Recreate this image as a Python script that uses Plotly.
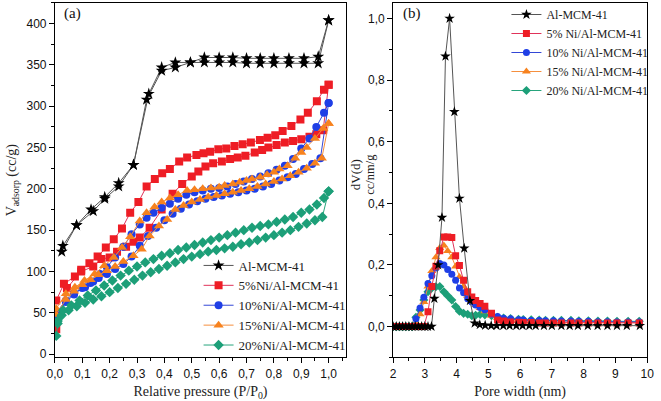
import plotly.graph_objects as go

# ---------------- Panel (a): N2 isotherms (adsorption + desorption branches) -------------
al_ads_p = [0.025, 0.079, 0.14, 0.182, 0.233, 0.287, 0.335, 0.39, 0.44, 0.495, 0.546, 0.60, 0.65, 0.70, 0.75, 0.80, 0.855, 0.91, 0.962, 1.0]
al_ads_v = [124, 156, 173, 188, 203, 229, 308, 343, 347, 353, 353, 353, 353, 352, 352, 352, 352, 352, 352, 404]
al_des_p = [1.0, 0.962, 0.91, 0.855, 0.80, 0.75, 0.70, 0.65, 0.60, 0.546, 0.495, 0.44, 0.39, 0.343, 0.287, 0.233, 0.182, 0.132, 0.079, 0.029]
al_des_v = [404, 360, 358, 358, 358, 358, 358, 359, 359, 359, 353, 353, 347, 315, 229, 207, 190, 175, 156, 131]

ni5_ads_p = [0.005, 0.044, 0.096, 0.14, 0.17, 0.20, 0.227, 0.26, 0.287, 0.31, 0.346, 0.39, 0.43, 0.465, 0.50, 0.524, 0.55, 0.578, 0.61, 0.64, 0.668, 0.696, 0.73, 0.757, 0.78, 0.81, 0.84, 0.87, 0.90, 0.93, 0.955, 0.98, 1.0]
ni5_ads_v = [30, 80, 100, 106, 115, 117, 124, 130, 136, 141, 153, 175, 194, 206, 215, 221, 227, 231, 233, 236, 238, 240, 244, 247, 250, 253, 256, 258, 260, 263, 266, 271, 326]
ni5_des_p = [1.0, 0.983, 0.957, 0.924, 0.897, 0.864, 0.832, 0.805, 0.777, 0.749, 0.716, 0.686, 0.656, 0.626, 0.597, 0.567, 0.543, 0.517, 0.483, 0.454, 0.42, 0.392, 0.365, 0.335, 0.305, 0.275, 0.245, 0.215, 0.186, 0.156, 0.126, 0.096, 0.073, 0.033, 0.005]
ni5_des_v = [326, 320, 306, 292, 284, 276, 270, 265, 262, 259, 256, 254, 252, 249, 248, 245, 243, 241, 238, 233, 224, 219, 212, 203, 184, 171, 152, 139, 129, 118, 110, 102, 94, 85, 65]

ni10_ads_p = [0.005, 0.04, 0.07, 0.10, 0.13, 0.16, 0.19, 0.22, 0.25, 0.28, 0.31, 0.34, 0.37, 0.40, 0.43, 0.46, 0.49, 0.52, 0.55, 0.58, 0.61, 0.64, 0.67, 0.70, 0.73, 0.76, 0.79, 0.82, 0.85, 0.88, 0.91, 0.94, 0.97, 1.0]
ni10_ads_v = [45, 63, 72, 80, 86, 92, 97, 103, 109, 118, 131, 143, 153, 162, 170, 176, 181, 185, 188, 190, 192, 194, 196, 198, 200, 203, 206, 210, 214, 218, 224, 230, 237, 304]
ni10_des_p = [1.0, 0.983, 0.955, 0.93, 0.90, 0.87, 0.84, 0.81, 0.78, 0.75, 0.72, 0.69, 0.66, 0.63, 0.60, 0.57, 0.54, 0.51, 0.48, 0.45, 0.42, 0.39, 0.36, 0.335, 0.31, 0.28, 0.25, 0.22, 0.19, 0.165, 0.14, 0.11, 0.07, 0.04, 0.005]
ni10_des_v = [304, 292, 275, 261, 249, 236, 228, 223, 219, 215, 212, 209, 206, 203, 201, 200, 198, 196, 193, 188, 182, 177, 171, 165, 157, 145, 130, 117, 105, 97, 88, 81, 74, 65, 50]

ni15_ads_p = [0.005, 0.04, 0.07, 0.10, 0.13, 0.16, 0.19, 0.22, 0.25, 0.287, 0.317, 0.346, 0.38, 0.41, 0.44, 0.47, 0.50, 0.53, 0.56, 0.59, 0.62, 0.65, 0.68, 0.71, 0.74, 0.77, 0.80, 0.83, 0.86, 0.89, 0.92, 0.95, 0.975, 1.0]
ni15_ads_v = [48, 66, 76, 84, 90, 96, 101, 106, 112, 119, 127, 143, 155, 163, 175, 180, 184, 187, 190, 192, 194, 196, 198, 200, 203, 206, 209, 212, 216, 220, 225, 231, 237, 279]
ni15_des_p = [1.0, 0.98, 0.95, 0.92, 0.90, 0.878, 0.85, 0.82, 0.80, 0.775, 0.75, 0.72, 0.70, 0.675, 0.65, 0.62, 0.60, 0.57, 0.54, 0.51, 0.483, 0.45, 0.42, 0.39, 0.364, 0.335, 0.31, 0.275, 0.245, 0.215, 0.18, 0.145, 0.108, 0.073, 0.04, 0.005]
ni15_des_v = [279, 273, 261, 250, 244, 237, 228, 224, 220, 217, 214, 212, 210, 208, 206, 204, 202, 201, 200, 199, 198, 193, 189, 184, 178, 171, 161, 142, 129, 117, 107, 97, 89, 81, 73, 55]

ni20_ads_p = [0.005, 0.01, 0.025, 0.05, 0.08, 0.11, 0.14, 0.17, 0.20, 0.23, 0.26, 0.29, 0.32, 0.35, 0.38, 0.41, 0.44, 0.47, 0.50, 0.53, 0.56, 0.59, 0.62, 0.65, 0.68, 0.71, 0.74, 0.77, 0.80, 0.83, 0.86, 0.89, 0.92, 0.95, 0.977, 1.0]
ni20_ads_v = [22, 37, 47, 53, 58, 62, 66, 70, 75, 80, 85, 90, 95, 99, 103, 107, 111, 115, 118, 121, 124, 126, 128, 130, 133, 135, 138, 141, 144, 147, 150, 154, 158, 162, 166, 197]
ni20_des_p = [1.0, 0.983, 0.957, 0.93, 0.90, 0.87, 0.84, 0.81, 0.78, 0.75, 0.72, 0.69, 0.66, 0.63, 0.60, 0.57, 0.54, 0.51, 0.48, 0.45, 0.42, 0.39, 0.36, 0.33, 0.30, 0.27, 0.24, 0.21, 0.18, 0.15, 0.12, 0.09, 0.06, 0.03, 0.01]
ni20_des_v = [197, 189, 181, 175, 171, 166, 163, 160, 157, 155, 153, 150, 147, 144, 141, 138, 135, 132, 129, 126, 122, 119, 115, 111, 106, 101, 95, 89, 83, 77, 71, 65, 59, 53, 40]

# ---------------- Panel (b): pore size distribution -------------
al_d = [2.0, 2.1, 2.2, 2.3, 2.4, 2.5, 2.6, 2.7, 2.8, 2.9, 3.0, 3.1, 3.21, 3.3, 3.42, 3.54, 3.65, 3.78, 3.93, 4.09, 4.24, 4.42, 4.57, 4.73, 4.9, 5.09, 5.26, 5.47, 5.67, 5.88, 6.08, 6.29, 6.49, 6.75, 7.0, 7.3, 7.56, 7.82, 8.13, 8.44, 8.75, 9.05, 9.36, 9.77]
al_dv = [0, 0, 0, 0, 0, 0, 0, 0, 0, 0, 0, 0, 0, 0.091, 0.2, 0.354, 0.877, 1.0, 0.697, 0.416, 0.254, 0.084, 0.011, 0.006, 0.004, 0.003, 0.003, 0.003, 0.003, 0.003, 0.003, 0.003, 0.003, 0.003, 0.003, 0.003, 0.003, 0.003, 0.003, 0.003, 0.003, 0.003, 0.003, 0.003]

psd_d = [2.0, 2.1, 2.2, 2.3, 2.4, 2.5, 2.6, 2.72, 2.85, 2.97, 3.1, 3.22, 3.35, 3.47, 3.6, 3.72, 3.85, 3.97, 4.09, 4.22, 4.35, 4.48, 4.6, 4.74, 4.89, 5.1, 5.29, 5.48, 5.7, 5.95, 6.1, 6.35, 6.6, 6.8, 7.05, 7.3, 7.6, 7.85, 8.15, 8.45, 8.75, 9.05, 9.4, 9.75]
ni5_dv = [0, 0, 0, 0, 0, 0, 0, 0, 0, 0, 0.048, 0.13, 0.196, 0.246, 0.291, 0.291, 0.289, 0.23, 0.198, 0.15, 0.113, 0.096, 0.085, 0.075, 0.066, 0.043, 0.021, 0.018, 0.015, 0.014, 0.013, 0.013, 0.012, 0.012, 0.012, 0.012, 0.012, 0.012, 0.012, 0.012, 0.012, 0.012, 0.012, 0.012]
ni10_dv = [0, 0, 0, 0, 0, 0, 0, 0.025, 0.06, 0.095, 0.14, 0.165, 0.19, 0.205, 0.2, 0.185, 0.17, 0.15, 0.125, 0.11, 0.09, 0.08, 0.07, 0.062, 0.055, 0.04, 0.033, 0.027, 0.025, 0.022, 0.021, 0.02, 0.02, 0.019, 0.019, 0.018, 0.018, 0.017, 0.017, 0.016, 0.016, 0.015, 0.015, 0.015]
ni15_dv = [0, 0, 0, 0, 0, 0, 0, 0.01, 0.04, 0.08, 0.13, 0.18, 0.225, 0.255, 0.263, 0.245, 0.225, 0.195, 0.161, 0.13, 0.1, 0.085, 0.07, 0.06, 0.05, 0.035, 0.028, 0.022, 0.02, 0.018, 0.017, 0.016, 0.016, 0.015, 0.015, 0.015, 0.014, 0.014, 0.014, 0.013, 0.013, 0.013, 0.013, 0.013]
ni20_dv = [0, 0, 0, 0, 0, 0, 0, 0.03, 0.054, 0.086, 0.113, 0.125, 0.129, 0.13, 0.113, 0.1, 0.086, 0.065, 0.05, 0.043, 0.04, 0.035, 0.037, 0.039, 0.038, 0.035, 0.03, 0.028, 0.026, 0.024, 0.023, 0.022, 0.021, 0.02, 0.02, 0.02, 0.02, 0.019, 0.019, 0.018, 0.018, 0.017, 0.017, 0.017]

names_a = ["Al-MCM-41", "5%Ni/Al-MCM-41", "10%Ni/Al-MCM-41", "15%Ni/Al-MCM-41", "20%Ni/Al-MCM-41"]
names_b = ["Al-MCM-41", "5% Ni/Al-MCM-41", "10% Ni/Al-MCM-41", "15% Ni/Al-MCM-41", "20% Ni/Al-MCM-41"]

x_ticks_a = [0.0, 0.1, 0.2, 0.3, 0.4, 0.5, 0.6, 0.7, 0.8, 0.9, 1.0]
x_labels_a = ["0,0", "0,1", "0,2", "0,3", "0,4", "0,5", "0,6", "0,7", "0,8", "0,9", "1,0"]
y_ticks_a = [0, 50, 100, 150, 200, 250, 300, 350, 400]
y_ticks_b = [0.0, 0.2, 0.4, 0.6, 0.8, 1.0]
y_labels_b = ["0,0", "0,2", "0,4", "0,6", "0,8", "1,0"]
x_ticks_b = [2, 3, 4, 5, 6, 7, 8, 9, 10]

marker_colors = ["#000000", "#ee1d25", "#1f3fe6", "#f7821e", "#1c9f78"]
line_colors = ["#555555", "#e0335a", "#3347d6", "#f58f3e", "#27a47c"]
symbols = ["star", "square", "circle", "triangle-up", "diamond"]
sizes = [9, 8, 8, 9, 8]

series_a = [
    (al_ads_p + al_des_p, al_ads_v + al_des_v),
    (ni5_ads_p + ni5_des_p, ni5_ads_v + ni5_des_v),
    (ni10_ads_p + ni10_des_p, ni10_ads_v + ni10_des_v),
    (ni15_ads_p + ni15_des_p, ni15_ads_v + ni15_des_v),
    (ni20_ads_p + ni20_des_p, ni20_ads_v + ni20_des_v),
]
series_b = [(al_d, al_dv), (psd_d, ni5_dv), (psd_d, ni10_dv), (psd_d, ni15_dv), (psd_d, ni20_dv)]

fig = go.Figure()
for i, (xs, ys) in enumerate(series_a):
    fig.add_trace(go.Scatter(
        x=xs, y=ys, mode="lines+markers", name=names_a[i],
        line=dict(color=line_colors[i], width=1),
        marker=dict(symbol=symbols[i], size=sizes[i], color=marker_colors[i], line=dict(width=0)),
        xaxis="x", yaxis="y", legend="legend"))
order_b = [4, 3, 2, 1, 0]
for i in order_b:
    xs, ys = series_b[i]
    fig.add_trace(go.Scatter(
        x=xs, y=ys, mode="lines+markers", name=names_b[i],
        line=dict(color=line_colors[i], width=1),
        marker=dict(symbol=symbols[i], size=sizes[i] - 1, color=marker_colors[i], line=dict(width=0)),
        xaxis="x2", yaxis="y2", legend="legend2", legendrank=i))

tickfont = dict(family="Liberation Sans, Arial, sans-serif", size=12, color="#111")
serif = "Liberation Serif, Times New Roman, serif"
common = dict(showline=True, linecolor="black", linewidth=1, mirror=True, showgrid=False,
              zeroline=False, ticks="outside", ticklen=5, tickcolor="black", tickfont=tickfont)

fig.update_layout(
    width=661, height=401,
    margin=dict(l=0, r=0, t=0, b=0),
    paper_bgcolor="white", plot_bgcolor="white",
    xaxis=dict(domain=[48 / 661, 346 / 661], range=[0, 1.064], tickvals=x_ticks_a, ticktext=x_labels_a,
               minor=dict(ticks="outside", ticklen=3, dtick=0.05, tickcolor="black", tick0=0),
               title=dict(text="Relative pressure (P/P<sub>0</sub>)", font=dict(family=serif, size=14, color="#222"), standoff=6),
               anchor="y", **common),
    yaxis=dict(domain=[40 / 401, 398 / 401], range=[-4, 425], tickvals=y_ticks_a,
               minor=dict(ticks="outside", ticklen=3, dtick=25, tickcolor="black", tick0=0),
               title=dict(text="V<sub>adsorp</sub> (cc/g)", font=dict(family=serif, size=14, color="#222"), standoff=6),
               anchor="x", **common),
    xaxis2=dict(domain=[394 / 661, 654 / 661], range=[2, 10], tickvals=x_ticks_b,
                minor=dict(ticks="outside", ticklen=3, dtick=0.5, tickcolor="black", tick0=2),
                title=dict(text="Pore width (nm)", font=dict(family=serif, size=14, color="#222"), standoff=6),
                anchor="y2", **common),
    yaxis2=dict(domain=[40 / 401, 398 / 401], range=[-0.1, 1.05], tickvals=y_ticks_b, ticktext=y_labels_b,
                minor=dict(ticks="outside", ticklen=3, dtick=0.1, tickcolor="black", tick0=0),
                anchor="x2", **common),
    legend=dict(x=195 / 661, y=1 - 253 / 401, xanchor="left", yanchor="top", bgcolor="rgba(0,0,0,0)",
                font=dict(family=serif, size=13, color="#222"), tracegroupgap=0, itemwidth=30),
    legend2=dict(x=510 / 661, y=1.0, xanchor="left", yanchor="top", bgcolor="rgba(0,0,0,0)",
                 font=dict(family=serif, size=12, color="#222"), tracegroupgap=0, itemwidth=30,
                 traceorder="normal"),
    showlegend=True,
    annotations=[
        dict(text="(a)", x=55 / 661, y=1 - 14 / 401, xref="paper", yref="paper", xanchor="left", yanchor="middle",
             showarrow=False, font=dict(family=serif, size=15, color="#111")),
        dict(text="(b)", x=402 / 661, y=1 - 14 / 401, xref="paper", yref="paper", xanchor="left", yanchor="middle",
             showarrow=False, font=dict(family=serif, size=15, color="#111")),
        dict(text="dV(d)", x=355 / 661, y=1 - 176 / 401, xref="paper", yref="paper", xanchor="center", yanchor="middle",
             textangle=-90, showarrow=False, font=dict(family=serif, size=13, color="#222")),
        dict(text="cc/nm/g", x=371 / 661, y=1 - 176 / 401, xref="paper", yref="paper", xanchor="center", yanchor="middle",
             textangle=-90, showarrow=False, font=dict(family=serif, size=12.5, color="#222")),
    ],
)

fig.write_html("out.html", config={"displayModeBar": False},
               post_script="document.body.style.margin='0';document.body.style.overflow='hidden';")
